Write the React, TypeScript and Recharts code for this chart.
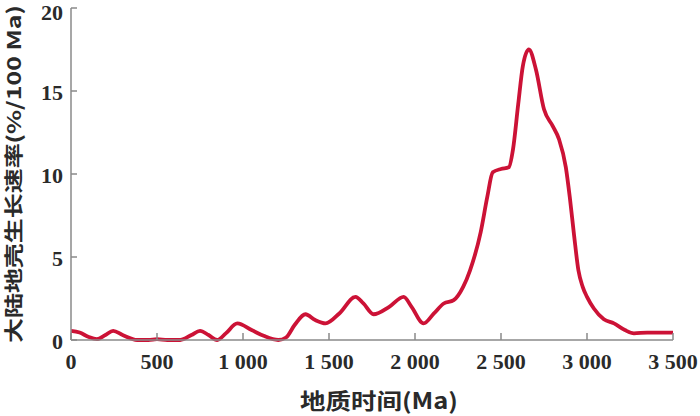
import { Line, LineChart, XAxis, YAxis, Label } from 'recharts';

// 地质时间 (Ma) and growth rate (%/100 Ma)
const ages = [
  0, 50, 100, 150, 200, 245, 300, 385, 450, 500, 560, 635, 700, 750, 800, 850,
  900, 967, 1050, 1120, 1205, 1250, 1300, 1363, 1420, 1480, 1560, 1654, 1700,
  1759, 1850, 1934, 1980, 2050, 2110, 2167, 2225, 2280, 2320, 2382, 2420, 2452,
  2500, 2545, 2570, 2600, 2627, 2662, 2703, 2750, 2800, 2837, 2877, 2900, 2925,
  2950, 2975, 3000, 3040, 3098, 3157, 3220, 3273, 3350, 3500,
];
const rates = [
  0.55, 0.45, 0.2, 0.05, 0.3, 0.55, 0.3, 0.0, 0.0, 0.05, 0.0, 0.0, 0.3, 0.55,
  0.3, 0.0, 0.4, 1.0, 0.6, 0.25, 0.0, 0.15, 0.9, 1.55, 1.2, 1.0, 1.6, 2.6, 2.2,
  1.55, 2.0, 2.6, 2.0, 1.0, 1.6, 2.2, 2.4, 3.2, 4.2, 6.5, 8.6, 10.1, 10.3, 10.4,
  11.5, 14.2, 16.5, 17.5, 16.3, 13.9, 12.9, 12.1, 10.4, 8.6, 6.3, 4.2, 3.2, 2.6,
  1.9, 1.25, 1.0, 0.6, 0.4, 0.45, 0.45,
];
const xTicks = [0, 500, 1000, 1500, 2000, 2500, 3000, 3500];
const yTicks = [0, 5, 10, 15, 20];

const data = ages.map((age, i) => ({ age, rate: rates[i] }));

const frame = '#8a8a8a';
const ink = '#2a2a2a';
const numStyle = { fontFamily: "'Liberation Serif', 'DejaVu Serif', serif", fontWeight: 700, fontSize: 22, fill: ink };
const cjk = "'Noto Sans CJK SC', sans-serif";

const fmtX = (v: number) => (v >= 1000 ? `${Math.floor(v / 1000)} ${String(v % 1000).padStart(3, '0')}` : `${v}`);

const XTick = ({ x, y, payload }: any) => (
  <text x={x} y={y + 15} textAnchor="middle" style={numStyle}>
    {fmtX(payload.value)}
  </text>
);

// keep the top label inside the picture
const YTick = ({ x, y, payload }: any) => (
  <text x={x} y={Math.max(y + 9, 20)} textAnchor="end" style={numStyle}>
    {payload.value}
  </text>
);

export default function App() {
  return (
    <div style={{ position: 'absolute', left: 0, top: 0, width: 700, height: 416, background: '#fff' }}>
      <LineChart width={700} height={416} data={data} margin={{ top: 8, right: 27, left: 0, bottom: 0 }}>
        <XAxis
          dataKey="age"
          type="number"
          domain={[0, 3500]}
          ticks={xTicks}
          height={76}
          stroke={frame}
          strokeWidth={1.5}
          tickSize={-7}
          tickMargin={21}
          tick={<XTick />}
        >
          <Label
            content={() => (
              <text
                x={300}
                y={409}
                textLength={158}
                lengthAdjust="spacingAndGlyphs"
                style={{ fontFamily: cjk, fontWeight: 700, fontSize: 22, fill: ink }}
              >
                地质时间(Ma)
              </text>
            )}
          />
        </XAxis>
        <XAxis xAxisId="top" orientation="top" type="number" domain={[0, 3500]} height={0} tick={false} tickLine={false} stroke={frame} strokeWidth={1.5} />
        <YAxis
          type="number"
          domain={[0, 20]}
          ticks={yTicks}
          width={71}
          stroke={frame}
          strokeWidth={1.5}
          tickSize={-6}
          tickMargin={14}
          tick={<YTick />}
        >
          <Label
            content={() => (
              <text
                x={0}
                y={0}
                transform="translate(21 343) rotate(-90)"
                textLength={338}
                lengthAdjust="spacingAndGlyphs"
                style={{ fontFamily: cjk, fontWeight: 700, fontSize: 19, fill: ink }}
              >
                大陆地壳生长速率(%/100 Ma)
              </text>
            )}
          />
        </YAxis>
        <YAxis yAxisId="right" orientation="right" type="number" domain={[0, 20]} width={0} tick={false} tickLine={false} stroke={frame} strokeWidth={1.5} />
        <Line
          type="monotone"
          dataKey="rate"
          stroke="#cc1236"
          strokeWidth={3.8}
          dot={false}
          isAnimationActive={false}
        />
      </LineChart>
    </div>
  );
}
